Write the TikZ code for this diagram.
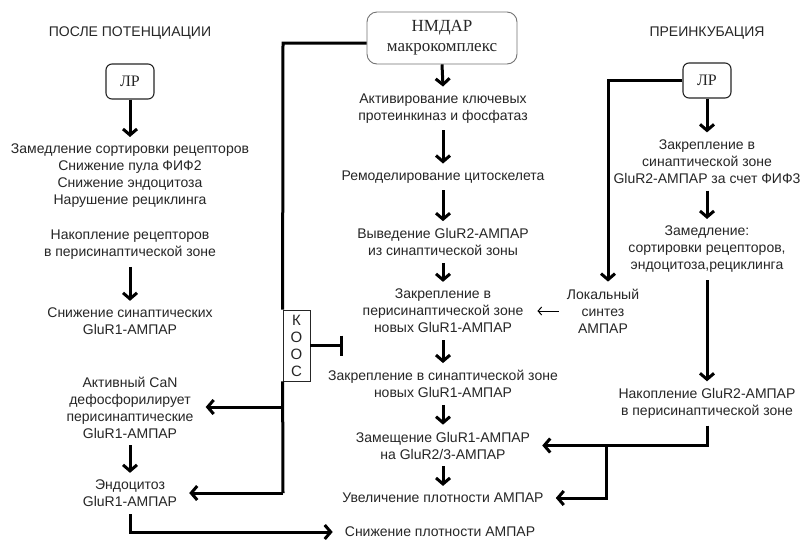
\documentclass[tikz,border=0pt]{standalone}
\usepackage{fontspec}
\setmainfont{Liberation Sans}
\newfontfamily\serifr{Liberation Serif}
\usetikzlibrary{arrows.meta}
\begin{document}
\begin{tikzpicture}[x=1pt,y=-1pt,
  txt/.style={align=center, font=\fontsize{14}{17}\selectfont, text=black!85, inner xsep=2pt, inner ysep=7pt},
  rbox/.style={draw=black!85, rounded corners=6pt, line width=1.1pt, font=\serifr\fontsize{16}{19}\selectfont, align=center, inner sep=0pt, minimum width=48pt, minimum height=35pt, text=black!85},
  arr/.style={line width=3pt, -{Straight Barb[length=6pt,width=14pt]}},
  busline/.style={line width=3pt},
  thinarr/.style={line width=1pt, -{Straight Barb[length=3.5pt,width=8pt]}}]
\useasboundingbox (0,0) rectangle (805,539);
\fill[white] (0,0) rectangle (805,539);

% titles
\node[txt] (t1) at (130,33) {ПОСЛЕ ПОТЕНЦИАЦИИ};
\node[txt] (t3) at (707,33) {ПРЕИНКУБАЦИЯ};

% left column
\node[rbox] (lr1) at (130,81.5) {ЛР};
\node[txt] (l1) at (130,176) {Замедление сортировки рецепторов\\Снижение пула ФИФ2\\Снижение эндоцитоза\\Нарушение рециклинга};
\node[txt] (l2) at (130,245) {Накопление рецепторов\\в перисинаптической зоне};
\node[txt] (l3) at (130,321.5) {Снижение синаптических\\GluR1-АМПАР};
\node[txt] (l4) at (130,407.5) {Активный CaN\\дефосфорилирует\\перисинаптические\\GluR1-АМПАР};
\node[txt] (l5) at (130,493.5) {Эндоцитоз\\GluR1-АМПАР};

% center column
\node[rbox, rounded corners=10pt, minimum width=150pt, minimum height=52pt, draw=black!55, line width=0.9pt,
  font=\serifr\fontsize{17}{20}\selectfont] (nm) at (442,38) {НМДАР\\макрокомплекс};
\node[txt] (c1) at (443,108.5) {Активирование ключевых\\протеинкиназ и фосфатаз};
\node[txt] (c2) at (443,177) {Ремоделирование цитоскелета};
\node[txt] (c3) at (443,242) {Выведение GluR2-АМПАР\\из синаптической зоны};
\node[txt] (c4) at (443,311) {Закрепление в\\перисинаптической зоне\\новых GluR1-АМПАР};
\node[txt] (c5) at (443,384) {Закрепление в синаптической зоне\\новых GluR1-АМПАР};
\node[txt] (c6) at (443,445.5) {Замещение GluR1-АМПАР\\на GluR2/3-АМПАР};
\node[txt] (c7) at (443,498) {Увеличение плотности АМПАР};
\node[txt] (c8) at (440,532) {Снижение плотности АМПАР};

% right column
\node[rbox] (lr2) at (707,80.5) {ЛР};
\node[txt] (r1) at (707,161.5) {Закрепление в\\синаптической зоне\\GluR2-АМПАР за счет ФИФ3};
\node[txt] (r2) at (707,249.5) {Замедление:\\сортировки рецепторов,\\эндоцитоза,рециклинга};
\node[txt] (r3) at (707,403.5) {Накопление GluR2-АМПАР\\в перисинаптической зоне};
\node[txt] (loc) at (603,311) {Локальный\\синтез\\АМПАР};

% KOOC box
\node[draw=black!85, line width=0.8pt, minimum width=27pt, minimum height=71pt, inner sep=0pt, align=center, text=black!85,
  font=\fontsize{15}{17}\selectfont] (kooc) at (296.5,345.5) {К\\О\\О\\С};

% coordinates
\coordinate (bt) at (283,43);
\coordinate (bca) at (283,407);
\coordinate (bb) at (283,493);
\coordinate (inh) at (343,345.5);
\coordinate (br) at (606,445.5);

% left arrows
\draw[arr] (lr1.south) -- (l1.north);
\draw[arr] (l2.south) -- (l3.north);
\draw[arr] (l4.south) -- (l5.north);
\draw[arr, shorten >=10pt] (l5.south) |- (c8.west);

% bus from NMDAR
\draw[busline] (bt -| nm.west) -- (bt) -- (kooc.north west);
\draw[busline] (kooc.south west) -- (bb);
\draw[arr, shorten >=10pt] (bca) -- (l4.east |- bca);
\draw[arr, shorten >=10pt] (bb) -- (l5.east |- bb);
\draw[line width=2.6pt, -{Bar[width=20pt]}] (kooc.east) -- (inh);

% center arrows
\draw[arr] (nm.south) -- (c1.north);
\draw[arr] (c1.south) -- (c2.north);
\draw[arr] (c2.south) -- (c3.north);
\draw[arr] (c3.south) -- (c4.north);
\draw[arr] (c4.south) -- (c5.north);
\draw[arr] (c5.south) -- (c6.north);
\draw[arr] (c6.south) -- (c7.north);

% right arrows
\draw[arr] (lr2.south) -- (r1.north);
\draw[arr] (r1.south) -- (r2.north);
\draw[arr] (r2.south) -- (r3.north);
\draw[arr] (lr2.west) -| ([xshift=5pt]loc.north);
\draw[thinarr, shorten <=6pt, shorten >=12pt] (loc.west) -- (c4.east |- loc.west);
\draw[arr, shorten >=10pt] (r3.south) |- (c6.east);
\draw[arr, shorten >=10pt] (br) |- (c7.east);
\end{tikzpicture}
\end{document}
